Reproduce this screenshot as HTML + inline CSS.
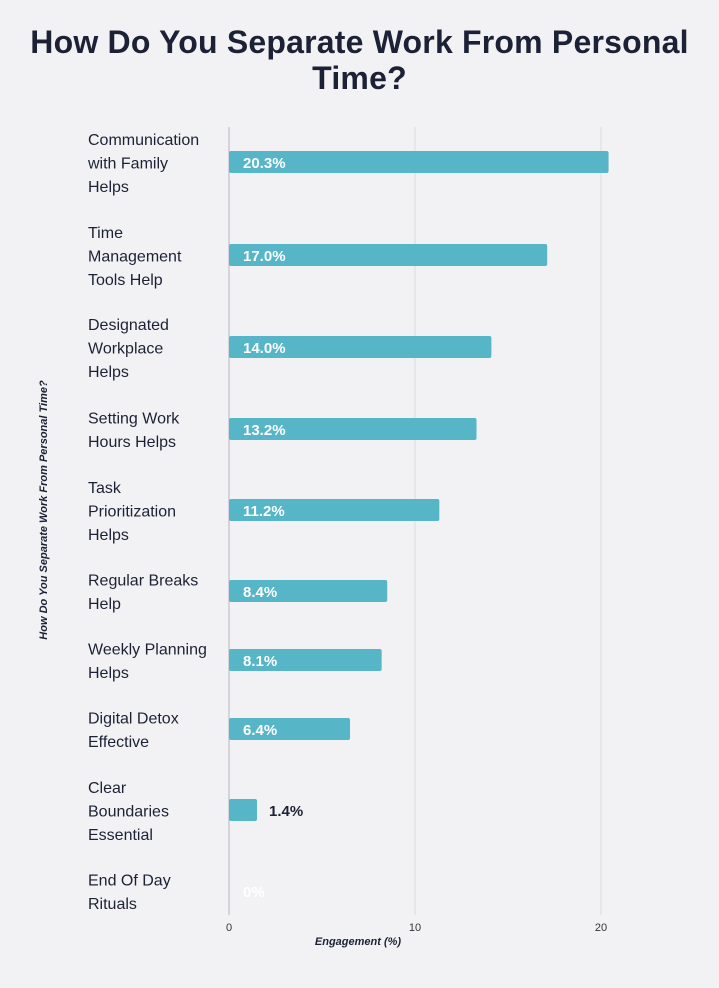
<!DOCTYPE html>
<html><head><meta charset="utf-8"><style>
html,body{margin:0;padding:0;background:#f2f2f4;}
body{width:719px;height:988px;position:relative;overflow:hidden;font-family:"Liberation Sans",sans-serif;}
#title{position:absolute;left:0;top:24px;width:719px;text-align:center;font-weight:bold;font-size:32px;line-height:36px;color:#1c2135;letter-spacing:0.2px;}
svg{position:absolute;left:0;top:0;}
</style></head><body>
<div id="title">How Do You Separate Work From Personal<br>Time?</div>
<svg id="chart" width="719" height="988"></svg>
<script>
const categories=[["Communication","with Family","Helps"],["Time","Management","Tools Help"],["Designated","Workplace","Helps"],["Setting Work","Hours Helps"],["Task","Prioritization","Helps"],["Regular Breaks","Help"],["Weekly Planning","Helps"],["Digital Detox","Effective"],["Clear","Boundaries","Essential"],["End Of Day","Rituals"]];
const values=[20.3,17.0,14.0,13.2,11.2,8.4,8.1,6.4,1.4,0];
const valueLabels=["20.3%","17.0%","14.0%","13.2%","11.2%","8.4%","8.1%","6.4%","1.4%","0%"];
const ticks=[0,10,20];
const rowCenters=[162,255,347,429,510,591,660,729,810,891];
const NS="http://www.w3.org/2000/svg";
const svg=document.getElementById('chart');
const x=v=>229+v*18.6;
function mk(t,a){const e=document.createElementNS(NS,t);for(const k in a)e.setAttribute(k,a[k]);svg.appendChild(e);return e;}
ticks.forEach(t=>{
 const g=mk('line',{x1:x(t),x2:x(t),y1:127,y2:915,stroke:t===0?'#d4d4da':'#dcdce0','stroke-width':t===0?2:1});
 
 
 const tl=mk('text',{x:x(t),y:931,'text-anchor':'middle','font-size':11,fill:'#333'});
 tl.textContent=t;
 
 
});
const xt=mk('text',{x:358,y:945,'text-anchor':'middle','font-size':11,'font-weight':'bold','font-style':'italic',fill:'#1c2135'});
xt.textContent='Engagement (%)';


const yt=mk('text',{x:0,y:0,'text-anchor':'middle','font-size':11,'font-weight':'bold','font-style':'italic',fill:'#1c2135',transform:'translate(47,510) rotate(-90)'});
yt.textContent='How Do You Separate Work From Personal Time?';


values.forEach((v,i)=>{
 const cy=rowCenters[i];
 const lines=categories[i];
 const t=mk('text',{x:88,y:cy-(lines.length-1)*11.5+6,'font-size':16,fill:'#1c2135'});
 lines.forEach((l,j)=>{const s=document.createElementNS(NS,'tspan');s.setAttribute('x',88);if(j>0)s.setAttribute('dy',23.5);s.textContent=l;t.appendChild(s);});
 
 
 if(v>0){
  const r=mk('rect',{x:x(0),y:cy-11,width:x(v)-x(0)+2,height:22,rx:2,fill:'#56b6c8'});
  
  
 }
 const w=x(v)-x(0);
 const inside=w>60;
 const vl=mk('text',{x:inside?x(0)+14:(v>0?x(v)+14:x(0)+14),y:cy+6,'font-size':15,'font-weight':'bold',fill:inside?'#fff':(v>0?'#1c2135':'#fff')});
 vl.textContent=valueLabels[i];
 
 
});
</script>
</body></html>
